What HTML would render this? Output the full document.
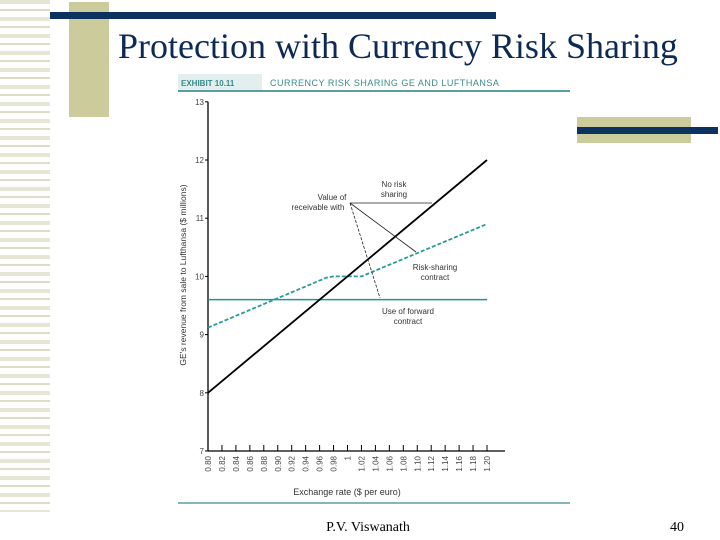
<!DOCTYPE html>
<html><head><meta charset="utf-8"><style>
body{margin:0;width:720px;height:540px;background:#fff;position:relative;overflow:hidden;font-family:"Liberation Sans",sans-serif}
.abs{position:absolute}
</style></head><body>
<div class="abs" style="left:0;top:0;width:50px;height:512px;background:repeating-linear-gradient(to bottom,#e6e6d4 0 4px,#fff 4px 9px,#ddddc6 9px 11px,#fff 11px 17px)"></div>
<div class="abs" style="left:69px;top:2px;width:40px;height:115px;background:#cbcb9c"></div>
<div class="abs" style="left:50px;top:12px;width:446px;height:7px;background:#0d3260"></div>
<div class="abs" style="left:577px;top:117px;width:114px;height:26px;background:#cbcb9c"></div>
<div class="abs" style="left:577px;top:127px;width:141px;height:7px;background:#0d3260"></div>
<div class="abs" style="left:118px;top:25px;font-family:'Liberation Serif',serif;font-size:36px;color:#0d2a55;white-space:nowrap">Protection with Currency Risk Sharing</div>
<svg class="abs" style="left:0;top:0" width="720" height="540">
<rect x="178" y="74" width="84" height="16" fill="#e3eeee"/>
<text x="181" y="86" font-size="8" font-weight="bold" fill="#3a8a8a">EXHIBIT 10.11</text>
<text x="270" y="86" font-size="9" fill="#3a8a8a" letter-spacing="0.5">CURRENCY RISK SHARING  GE AND LUFTHANSA</text>
<line x1="178" y1="91" x2="570" y2="91" stroke="#5a9f9f" stroke-width="2"/>
<line x1="178" y1="503" x2="570" y2="503" stroke="#5a9f9f" stroke-width="1.5"/>
<g id="plot"></g>
<text x="368" y="531" text-anchor="middle" font-family="Liberation Serif,serif" font-size="14">P.V. Viswanath</text>
<text x="684" y="531" text-anchor="end" font-family="Liberation Serif,serif" font-size="14">40</text>
</svg>
<script>
const xTicks=["0.80","0.82","0.84","0.86","0.88","0.90","0.92","0.94","0.96","0.98","1","1.02","1.04","1.06","1.08","1.10","1.12","1.14","1.16","1.18","1.20"];
const xTickVals=[0.80,0.82,0.84,0.86,0.88,0.90,0.92,0.94,0.96,0.98,1.00,1.02,1.04,1.06,1.08,1.10,1.12,1.14,1.16,1.18,1.20];
const yTicks=[7,8,9,10,11,12,13];
const noRiskX=[0.80,1.20];
const noRiskY=[8,12];
const sharingX=[0.80,0.97,0.98,1.02,1.03,1.20];
const sharingY=[9.12,9.98,10.0,10.0,10.05,10.9];
const forwardX=[0.80,1.20];
const forwardY=[9.6,9.6];
const NS="http://www.w3.org/2000/svg";
const g=document.getElementById('plot');
const X=v=>208+(v-0.80)/0.40*279;
const Y=v=>451-(v-7)*58.2;
function mk(t,a,txt){const e=document.createElementNS(NS,t);for(const k in a)e.setAttribute(k,a[k]);if(txt!==undefined)e.textContent=txt;g.appendChild(e);return e;}
let e;
e=mk('line',{x1:208,y1:Y(13),x2:208,y2:451,stroke:'#000','stroke-width':1.3});


e=mk('line',{x1:208,y1:451,x2:505,y2:451,stroke:'#000','stroke-width':1.3});


yTicks.forEach(v=>{
 e=mk('text',{x:204,y:Y(v)+3,'text-anchor':'end','font-size':8,fill:'#444'},String(v));
 
 
 e=mk('line',{x1:205,y1:Y(v),x2:208,y2:Y(v),stroke:'#000'});
 
 
});
xTickVals.forEach((v,i)=>{
 e=mk('line',{x1:X(v),y1:445,x2:X(v),y2:451,stroke:'#000'});
 
 
 e=mk('text',{x:0,y:0,'font-size':8,fill:'#444','text-anchor':'end',transform:`translate(${X(v)+3},456) rotate(-90)`},xTicks[i]);
 
 
});
e=mk('text',{x:347,y:495,'text-anchor':'middle','font-size':9,fill:'#333'},'Exchange rate ($ per euro)');


e=mk('text',{x:0,y:0,'text-anchor':'middle','font-size':8.5,fill:'#333',transform:'translate(186,275) rotate(-90)'},"GE's revenue from sale to Lufthansa ($ millions)");


const pts=(xs,ys)=>xs.map((x,i)=>X(x)+','+Y(ys[i])).join(' ');
e=mk('polyline',{points:pts(forwardX,forwardY),fill:'none',stroke:'#2a9090','stroke-width':1.5});


e=mk('polyline',{points:pts(sharingX,sharingY),fill:'none',stroke:'#2a9a9a','stroke-width':1.8,'stroke-dasharray':'4,2'});


e=mk('polyline',{points:pts(noRiskX,noRiskY),fill:'none',stroke:'#000','stroke-width':1.8});


e=mk('line',{x1:350,y1:203,x2:432,y2:203,stroke:'#222','stroke-width':0.8});


e=mk('line',{x1:350,y1:203,x2:416,y2:252,stroke:'#222','stroke-width':0.8});


e=mk('line',{x1:350,y1:203,x2:380,y2:298,stroke:'#222','stroke-width':0.8,'stroke-dasharray':'3,1.5'});


[["Value of",332,200],["receivable with",318,210],["No risk",394,187],["sharing",394,197],["Risk-sharing",435,270],["contract",435,280],["Use of forward",408,314],["contract",408,324]].forEach(([t,x,y])=>{
 e=mk('text',{x:x,y:y,'text-anchor':'middle','font-size':8,fill:'#333'},t);
 
 
});
</script>
</body></html>
